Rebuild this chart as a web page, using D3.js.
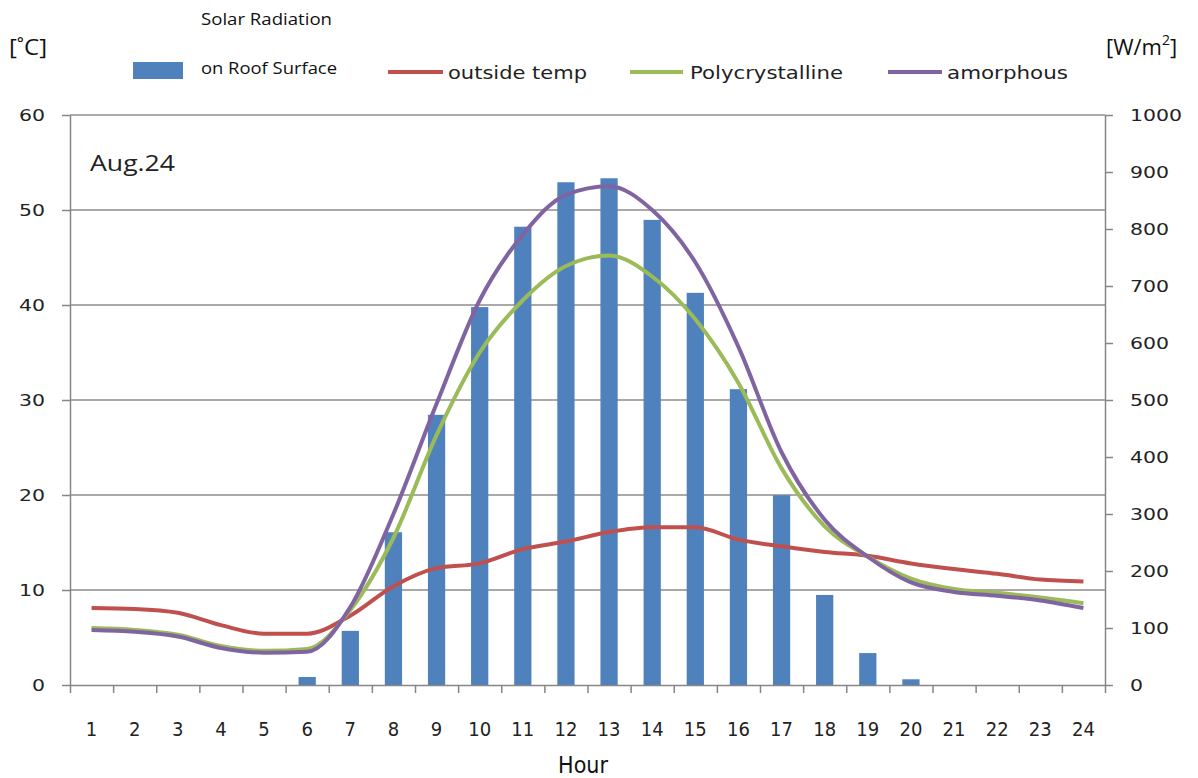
<!DOCTYPE html>
<html>
<head>
<meta charset="utf-8">
<script src="https://cdn.jsdelivr.net/npm/d3@7"></script>
<style>
  body { margin: 0; background: #fff; }
  svg { display: block; }
  .tick text { font-family: "DejaVu Sans", Verdana, sans-serif; font-size: 16px; fill: #222; }
  .axis path, .axis line { stroke: #868686; stroke-width: 1.5; }
</style>
</head>
<body>
<svg id="chart" width="1198" height="778"></svg>
<script>
// hours on the x axis
var hours = d3.range(1, 25)

// solar radiation on roof surface [W/m2]
var solar = [0, 0, 0, 0, 0, 14, 95, 268, 474, 663, 804, 882, 889, 816, 688, 519, 333, 158, 56, 10, 0, 0, 0, 0]

// temperatures [C]
var outsideTemp = [8.1, 8.0, 7.6, 6.3, 5.4, 5.4, 7.3, 10.4, 12.3, 12.8, 14.3, 15.1, 16.1, 16.6, 16.6, 15.3, 14.6, 14.0, 13.6, 12.8, 12.2, 11.7, 11.1, 10.9]
var polycrystalline = [6.0, 5.8, 5.3, 4.1, 3.6, 3.8, 7.9, 15.5, 26.3, 35.0, 40.5, 44.1, 45.2, 43.0, 38.5, 31.8, 22.8, 16.7, 13.5, 11.2, 10.1, 9.7, 9.2, 8.6]
var amorphous = [5.8, 5.6, 5.1, 3.9, 3.4, 3.5, 8.2, 18.0, 29.6, 40.5, 47.4, 51.6, 52.5, 50.0, 44.5, 35.6, 24.5, 17.4, 13.5, 10.8, 9.8, 9.4, 8.9, 8.1]

var leftTicks = [0, 10, 20, 30, 40, 50, 60]
var rightTicks = d3.range(0, 1001, 100)

function draw() {
  var svg = d3.select('#chart'),
    pLeft = 70, pRight = 1105, pTop = 115, pBottom = 685

  var x = d3.scaleBand().domain(hours).range([pLeft, pRight])
  var xEdge = d3.scaleLinear().domain([0, 24]).range([pLeft, pRight])
  var yL = d3.scaleLinear().domain([0, 60]).range([pBottom, pTop])
  var yR = d3.scaleLinear().domain([0, 1000]).range([pBottom, pTop])

  // gridlines
  svg.append('g').selectAll('line')
    .data(leftTicks.slice(1))
    .enter().append('line')
    .attr('x1', pLeft).attr('x2', pRight)
    .attr('y1', function(d) { return yL(d) }).attr('y2', function(d) { return yL(d) })
    .attr('stroke', '#8c8c8c').attr('stroke-width', 1.5)

  // bars
  var barW = x.bandwidth() * 0.4
  svg.append('g').selectAll('rect')
    .data(solar)
    .enter().append('rect')
    .attr('x', function(d, i) { return x(hours[i]) + x.bandwidth() / 2 - barW / 2 })
    .attr('y', function(d) { return yR(d) })
    .attr('width', barW)
    .attr('height', function(d) { return pBottom - yR(d) })
    .attr('fill', '#4f81bd')

  // axes
  svg.append('g').attr('class', 'axis')
    .attr('transform', 'translate(' + pLeft + ',0)')
    .call(d3.axisLeft(yL).tickValues(leftTicks).tickSize(8).tickPadding(17).tickSizeOuter(0))

  svg.append('g').attr('class', 'axis')
    .attr('transform', 'translate(' + pRight + ',0)')
    .call(d3.axisRight(yR).tickValues(rightTicks).tickFormat(d3.format('d')).tickSize(8).tickPadding(17).tickSizeOuter(0))

  // the tick digits are wide in the original
  svg.selectAll('.tick text')
    .attr('textLength', function() { return this.textContent.length * 13 })
    .attr('lengthAdjust', 'spacingAndGlyphs')

  svg.append('g').attr('class', 'axis')
    .attr('transform', 'translate(0,' + pBottom + ')')
    .call(d3.axisBottom(xEdge).tickValues(d3.range(0, 25)).tickSize(8).tickFormat('').tickSizeOuter(0))

  var narrow = '"Liberation Sans Narrow", "DejaVu Sans Condensed", "Liberation Sans", sans-serif'

  svg.append('g').selectAll('text')
    .data(hours)
    .enter().append('text')
    .attr('x', function(d) { return x(d) + x.bandwidth() / 2 })
    .attr('y', 736)
    .attr('text-anchor', 'middle')
    .style('font-family', narrow)
    .style('font-size', '20px')
    .attr('fill', '#222')
    .text(function(d) { return d })

  // lines
  var line = function(values) {
    return d3.line()
      .x(function(d, i) { return x(hours[i]) + x.bandwidth() / 2 })
      .y(function(d) { return yL(d) })
      .curve(d3.curveMonotoneX)(values)
  }

  var series = [
    { name: 'outside temp', values: outsideTemp, color: '#c0504d' },
    { name: 'Polycrystalline', values: polycrystalline, color: '#9bbb59' },
    { name: 'amorphous', values: amorphous, color: '#8064a2' }
  ]

  series.forEach(function(s) {
    svg.append('path')
      .attr('d', line(s.values))
      .attr('fill', 'none')
      .attr('stroke', s.color)
      .attr('stroke-width', 4)
      .attr('stroke-linejoin', 'round')
  })

  // texts
  var font = '"Open Sans", "Noto Sans", sans-serif'

  svg.append('text').attr('x', 90).attr('y', 171)
    .style('font-family', font).style('font-size', '21px').attr('fill', '#222')
    .attr('textLength', 85).attr('lengthAdjust', 'spacingAndGlyphs')
    .text('Aug.24')

  svg.append('text').attr('x', 583).attr('y', 773).attr('text-anchor', 'middle')
    .style('font-family', narrow)
    .style('font-size', '23px').attr('fill', '#111')
    .text('Hour')

  svg.append('text').attr('x', 9).attr('y', 55)
    .style('font-family', font).style('font-size', '22px').attr('fill', '#111')
    .attr('textLength', 38).attr('lengthAdjust', 'spacingAndGlyphs')
    .text('[˚C]')

  var wm = svg.append('text').attr('x', 1106).attr('y', 55)
    .style('font-family', font).style('font-size', '22px').attr('fill', '#111')
  wm.append('tspan').text('[W/m')
  wm.append('tspan').attr('dy', -10).style('font-size', '14px').text('2')
  wm.append('tspan').attr('dy', 10).text(']')

  // legend
  svg.append('rect').attr('x', 133).attr('y', 62).attr('width', 50).attr('height', 17).attr('fill', '#4f81bd')
  svg.append('text').attr('x', 201).attr('y', 25)
    .style('font-family', font).style('font-size', '17px').attr('fill', '#111')
    .attr('textLength', 131).attr('lengthAdjust', 'spacingAndGlyphs')
    .text('Solar Radiation')
  svg.append('text').attr('x', 201).attr('y', 74)
    .style('font-family', font).style('font-size', '17px').attr('fill', '#111')
    .attr('textLength', 136).attr('lengthAdjust', 'spacingAndGlyphs')
    .text('on Roof Surface')

  var legendLine = [[388, 443], [630, 683], [888, 942]],
    legendText = [[448, 139], [690, 153], [947, 121]]
  series.forEach(function(s, i) {
    svg.append('line')
      .attr('x1', legendLine[i][0]).attr('x2', legendLine[i][1])
      .attr('y1', 72).attr('y2', 72)
      .attr('stroke', s.color).attr('stroke-width', 4)
    svg.append('text')
      .attr('x', legendText[i][0]).attr('y', 79)
      .style('font-family', '"DejaVu Sans", sans-serif')
      .style('font-size', '18px').attr('fill', '#222')
      .attr('textLength', legendText[i][1]).attr('lengthAdjust', 'spacingAndGlyphs')
      .text(s.name)
  })
}

draw()
</script>
</body>
</html>
